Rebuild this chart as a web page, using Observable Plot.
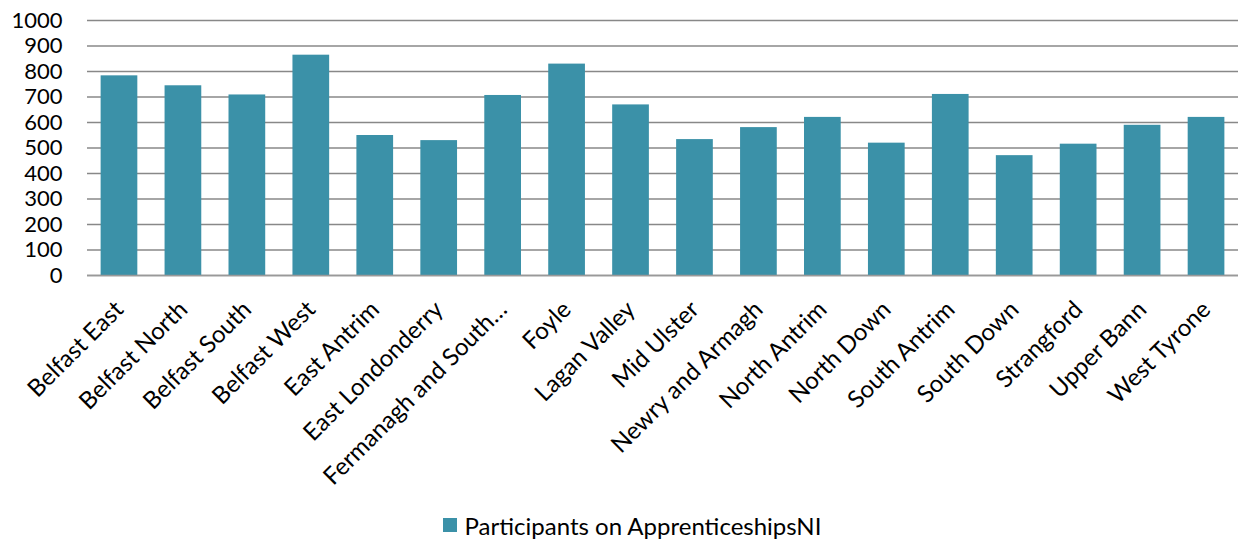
<!DOCTYPE html>
<html>
<head>
<meta charset="utf-8">
<script src="https://cdn.jsdelivr.net/npm/d3@7"></script>
<script src="https://cdn.jsdelivr.net/npm/@observablehq/plot@0.6"></script>
<style>
  html, body { margin: 0; padding: 0; background: #fff; }
  body { width: 1242px; height: 539px; overflow: hidden; font-family: Lato, "Open Sans", sans-serif; }
  #legend { display: flex; justify-content: center; align-items: center; height: 40px; font-size: 24px; color: #000; margin-left: 22px; }
  #legend .sw { width: 14px; height: 14px; background: #3B91A8; margin-right: 8px; }
</style>
</head>
<body>
<div id="chart"></div>
<div id="legend"><span class="sw"></span><span>Participants on ApprenticeshipsNI</span></div>
<script>
const categories = ["Belfast East","Belfast North","Belfast South","Belfast West","East Antrim","East Londonderry","Fermanagh and South Tyrone","Foyle","Lagan Valley","Mid Ulster","Newry and Armagh","North Antrim","North Down","South Antrim","South Down","Strangford","Upper Bann","West Tyrone"];
const tickLabels = ["Belfast East","Belfast North","Belfast South","Belfast West","East Antrim","East Londonderry","Fermanagh and South…","Foyle","Lagan Valley","Mid Ulster","Newry and Armagh","North Antrim","North Down","South Antrim","South Down","Strangford","Upper Bann","West Tyrone"];
const participants = [783, 744, 708, 864, 549, 529, 706, 829, 669, 533, 580, 620, 519, 710, 470, 515, 589, 620];
const yTicks = [0,100,200,300,400,500,600,700,800,900,1000];
const seriesName = "Participants on ApprenticeshipsNI";

const data = categories.map((c, i) => ({constituency: c, value: participants[i]}));
const labelOf = new Map(categories.map((c, i) => [c, tickLabels[i]]));

const chart = Plot.plot({
  width: 1242,
  height: 505,
  marginTop: 20,
  marginBottom: 230,
  marginLeft: 87,
  marginRight: 4,
  style: {fontFamily: "Lato, 'Open Sans', sans-serif", fontSize: "22px", color: "#000", background: "#fff"},
  x: {domain: categories, paddingInner: 0.426, paddingOuter: 0.213, round: false, label: null},
  y: {domain: [0, 1000], label: null},
  marks: [
    Plot.gridY(yTicks, {stroke: "#888", strokeOpacity: 1, strokeWidth: 1.5}),
    Plot.barY(data, {x: "constituency", y: "value", fill: "#3B91A8"}),
    Plot.ruleY([0], {stroke: "#999", strokeWidth: 1.5}),
    Plot.axisY(yTicks, {tickSize: 0, tickPadding: 25, fontSize: 22, fill: "#000", label: null, tickFormat: d3.format("d")}),
    Plot.axisX({tickSize: 0, tickRotate: -45, tickPadding: 30, fontSize: 24, fill: "#000", label: null, tickFormat: d => labelOf.get(d)})
  ]
});
document.getElementById("chart").appendChild(chart);
</script>
</body>
</html>
